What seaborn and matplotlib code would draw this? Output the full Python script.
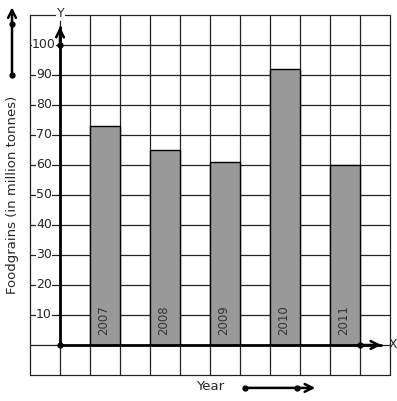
import numpy as np
import matplotlib
matplotlib.use('Agg')
import matplotlib.pyplot as plt
import seaborn as sns

years = ['2007', '2008', '2009', '2010', '2011']
foodgrains = [73, 65, 61, 92, 60]
yticks = [10, 20, 30, 40, 50, 60, 70, 80, 90, 100]

sns.set_style('white')
plt.rcParams['font.family'] = ['DejaVu Sans']

fig = plt.figure(figsize=(3.97, 4.01), dpi=100)
ax = fig.add_axes([0, 0, 1, 1])

# one grid cell = 1 unit across, 10 units up
pos = np.arange(len(years)) * 2 + 1.5
sns.barplot(x=pos, y=foodgrains, native_scale=True, width=0.5, color='#999999',
            edgecolor='black', linewidth=1, saturation=1, errorbar=None, ax=ax, zorder=3)

ax.set_xlim(-2, 11.233)
ax.set_ylim(-18.667, 115)
ax.axis('off')

# graph paper grid
for gx in np.arange(-1, 11.5, 1):
    ax.plot([gx, gx], [-10, 110], color='#222222', lw=0.9, zorder=1)
for gy in np.arange(-10, 115, 10):
    ax.plot([-1, 11], [gy, gy], color='#222222', lw=0.9, zorder=1)

# axes with arrows
ax.plot([0, 0], [0, 106], color='black', lw=2, zorder=4)
ax.plot([0, 10.7], [0, 0], color='black', lw=2, zorder=4)
ax.annotate('', xy=(0, 107), xytext=(0, 100),
            arrowprops=dict(arrowstyle='->', lw=1.8, color='black', mutation_scale=14), zorder=5)
ax.annotate('', xy=(10.8, 0), xytext=(10.0, 0),
            arrowprops=dict(arrowstyle='->', lw=1.8, color='black', mutation_scale=14), zorder=5)
ax.plot([0, 0, 10], [0, 100, 0], 'o', color='black', ms=3.5, zorder=6)
ax.text(0.03, 110.5, 'Y', fontsize=9, ha='center', va='center', zorder=6,
        bbox=dict(facecolor='white', edgecolor='none', pad=0.5))
ax.text(10.95, 0, 'X', fontsize=9, ha='left', va='center', zorder=6)

for t in yticks:
    ax.text(-0.53, t, str(t), fontsize=9, ha='center', va='center', zorder=6,
            bbox=dict(facecolor='white', edgecolor='none', pad=0.3))

for p, yr in zip(pos, years):
    ax.text(p - 0.05, 3.3, yr, fontsize=8.5, rotation=90, ha='center', va='bottom',
            color='#333333', zorder=6)

ax.text(-1.6, 50, 'Foodgrains (in million tonnes)', fontsize=9.5, rotation=90,
        ha='center', va='center')
ax.text(5, -14, 'Year', fontsize=9.5, ha='center', va='center')

# direction arrows
ax.annotate('', xy=(-1.6, 113.5), xytext=(-1.6, 90),
            arrowprops=dict(arrowstyle='->', lw=1.8, color='black', mutation_scale=14))
ax.plot([-1.6, -1.6], [90, 107], 'o', color='black', ms=3.5)
ax.annotate('', xy=(8.6, -14.3), xytext=(6.17, -14.3),
            arrowprops=dict(arrowstyle='->', lw=1.8, color='black', mutation_scale=14))
ax.plot([6.17, 7.9], [-14.3, -14.3], 'o', color='black', ms=3.5)

fig.savefig('out.png', dpi=100)
